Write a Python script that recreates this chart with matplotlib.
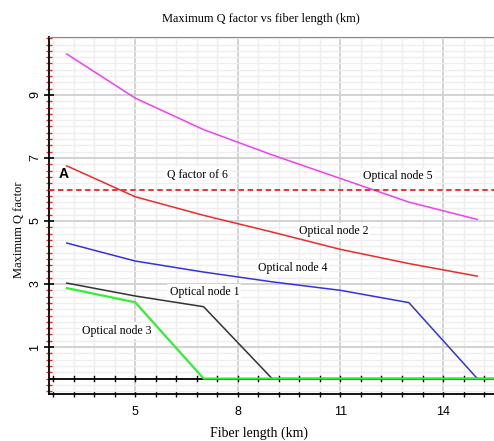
import numpy as np
import matplotlib
matplotlib.use("Agg")
import matplotlib.pyplot as plt
from matplotlib.ticker import MultipleLocator, FixedLocator

# fiber length samples (km)
fiber_km = [3, 5, 7, 9, 11, 13, 15]
tail_km = 16  # zero tail past the right edge

node5 = [10.3, 8.9, 7.9, 7.1, 6.35, 5.6, 5.05]
node2 = [6.75, 5.77, 5.18, 4.65, 4.1, 3.65, 3.25]
node4 = [4.3, 3.73, 3.38, 3.07, 2.8, 2.41, 0.0]
node1 = [3.03, 2.62, 2.28, 0.0, 0.0, 0.0, 0.0]
node3 = [2.87, 2.42, 0.0, 0.0, 0.0, 0.0, 0.0]
q_threshold = 6

xticks = [5, 8, 11, 14]
yticks = [1, 3, 5, 7, 9]

serif = "Liberation Serif"
sans = "Liberation Sans"

fig = plt.figure(figsize=(4.94, 4.41), dpi=100)
ax = fig.add_axes([0.0992, 0.1066, 0.905, 0.8095])
ax.set_xlim(2.48, 15.55)
ax.set_ylim(-0.49, 10.84)

# grid: light minor lines, darker major lines
ax.xaxis.set_major_locator(FixedLocator(xticks))
ax.yaxis.set_major_locator(FixedLocator(yticks))
ax.xaxis.set_minor_locator(FixedLocator(np.arange(2.6, 15.6, 0.6)))
ax.yaxis.set_minor_locator(MultipleLocator(0.2))
ax.grid(which="minor", color="#eeeeee", linewidth=1.0, zorder=0)
ax.grid(which="major", color="#d2d2d2", linewidth=1.4, zorder=0)
ax.set_axisbelow(True)

# zero baseline with its own tick marks
ax.axhline(0, color="black", linewidth=1.3, zorder=2)
for xm in np.arange(2.6, 15.6, 0.6):
    ax.plot([xm, xm], [-0.07, 0.07], color="black", linewidth=1.0, zorder=2)

x_tail = fiber_km + [tail_km]
ax.plot(fiber_km, node5, color="#f040f0", linewidth=1.1, zorder=3)
ax.plot(fiber_km, node2, color="#ee2a2a", linewidth=1.1, zorder=3)
ax.plot(fiber_km, node4, color="#3333dd", linewidth=1.1, zorder=3)
ax.plot(x_tail, node1 + [0.0], color="#333333", linewidth=1.1, zorder=3)
ax.plot(x_tail, node3 + [0.0], color="#33ee33", linewidth=1.6, zorder=4)

ax.axhline(q_threshold, color="#ee2222", linewidth=1.3, linestyle=(0, (3, 2)), zorder=3)

box = dict(facecolor="white", edgecolor="none", pad=1.5)
ax.text(2.92, 6.49, "A", fontfamily=sans, fontweight="bold", fontsize=10,
        ha="center", va="center", zorder=5)
ax.text(6.82, 6.46, "Q factor of 6", fontfamily=serif, fontsize=8.5,
        ha="center", va="center", bbox=box, zorder=5)
ax.text(12.68, 6.43, "Optical node 5", fontfamily=serif, fontsize=8.5,
        ha="center", va="center", bbox=box, zorder=2.5)
ax.text(10.8, 4.68, "Optical node 2", fontfamily=serif, fontsize=8.5,
        ha="center", va="center", bbox=box, zorder=2.5)
ax.text(9.6, 3.51, "Optical node 4", fontfamily=serif, fontsize=8.5,
        ha="center", va="center", bbox=box, zorder=2.5)
ax.text(7.02, 2.75, "Optical node 1", fontfamily=serif, fontsize=8.5,
        ha="center", va="center", bbox=box, zorder=2.5)
ax.text(4.47, 1.51, "Optical node 3", fontfamily=serif, fontsize=8.5,
        ha="center", va="center", bbox=box, zorder=2.5)

# frame
ax.spines["right"].set_visible(False)
ax.spines["top"].set_color("#888888")
ax.spines["top"].set_linestyle((0, (1, 1)))
ax.spines["left"].set_color("black")
ax.spines["left"].set_linewidth(1.3)
ax.spines["bottom"].set_color("black")
ax.spines["bottom"].set_linewidth(1.3)

ax.tick_params(axis="y", which="major", direction="inout", length=7, width=1.2,
               color="black", labelsize=9, pad=2)
ax.tick_params(axis="y", which="minor", direction="inout", length=5, width=1.0,
               color="#ee2222")
ax.tick_params(axis="x", which="major", direction="inout", length=5, width=1.0,
               color="black", labelsize=9, pad=6)
ax.tick_params(axis="x", which="minor", direction="inout", length=5, width=1.0,
               color="black")
ax.set_xticklabels([str(v) for v in xticks], fontfamily=sans)
ax.set_yticklabels([str(v) for v in yticks], fontfamily=sans, rotation=90, va="center")

ax.set_title("Maximum Q factor vs fiber length (km)", fontfamily=serif,
             fontsize=8.9, pad=11, x=0.474)
ax.set_xlabel("Fiber length (km)", fontfamily=serif, fontsize=10, labelpad=6, x=0.47)
ax.set_ylabel("Maximum Q factor", fontfamily=serif, fontsize=9, labelpad=3, y=0.46)

fig.savefig("out.png", dpi=100)
